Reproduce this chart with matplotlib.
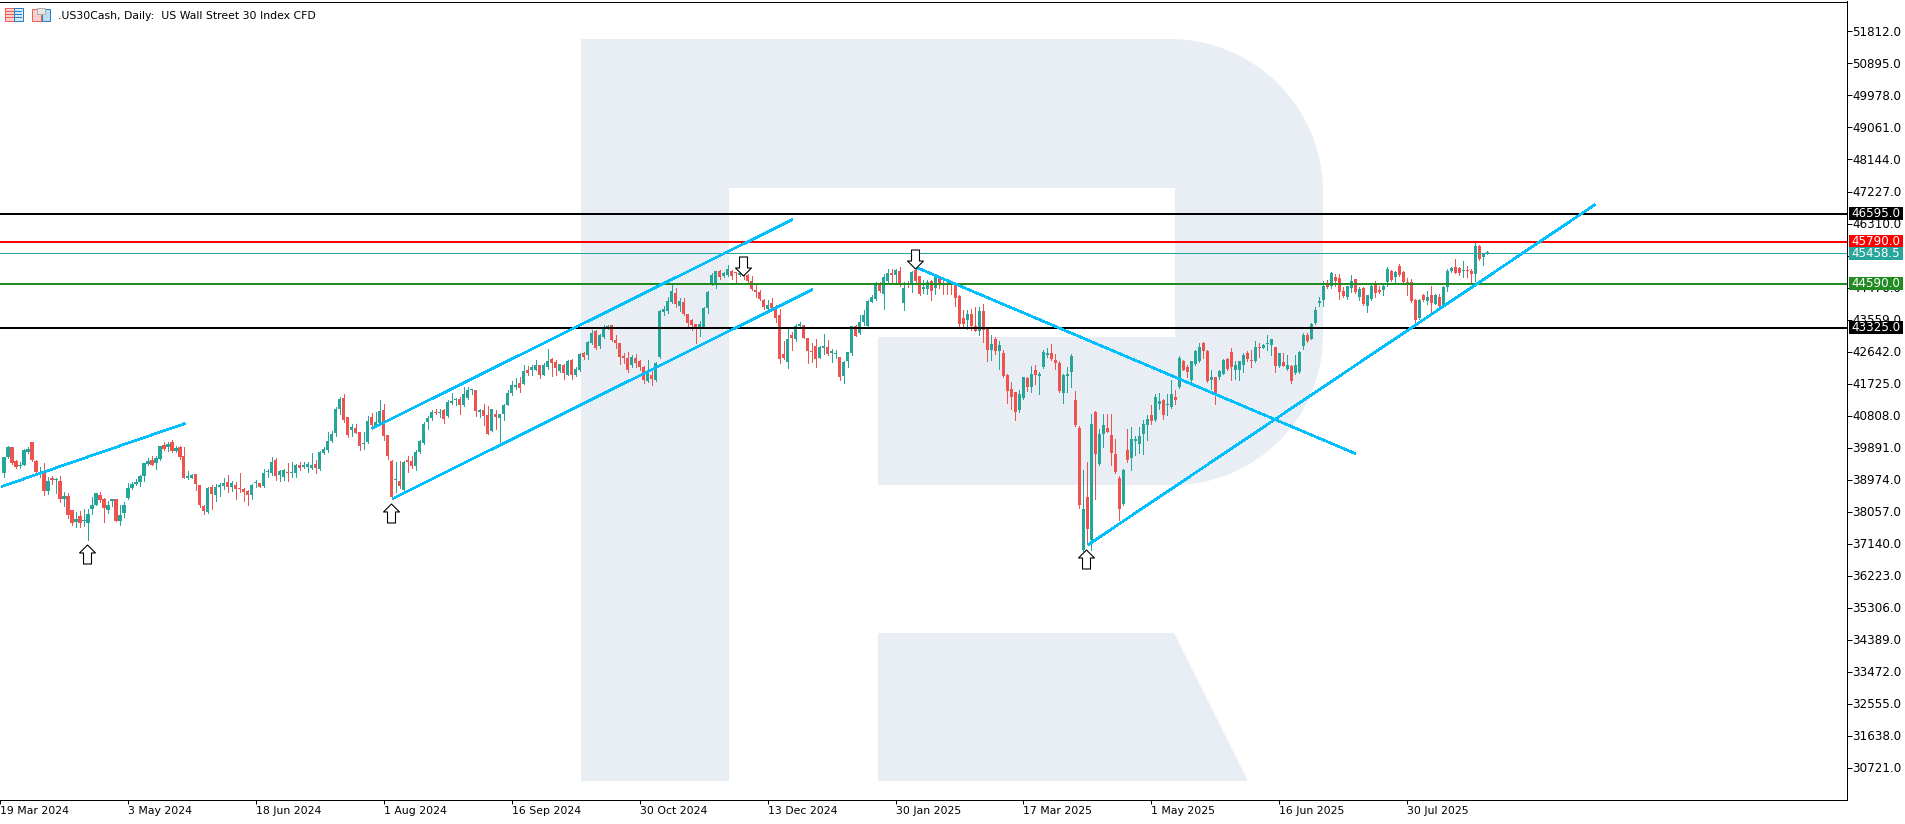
import matplotlib
matplotlib.use('Agg')
import matplotlib.pyplot as plt
import numpy as np
from matplotlib.patches import PathPatch, Rectangle, Polygon
from matplotlib.path import Path

# daily candles, left to right
opens = [
    39155,39633,39900,39518,39365,39403,39776,40062,39499,39165,
    39184,38639,39031,38964,38945,38410,38515,38105,37751,37942,
    37780,37732,38124,38257,38544,38410,38114,38353,38410,37799,
    38028,38448,38725,38850,38897,39060,39423,39547,39461,39566,
    39976,39900,40062,39795,39919,39661,39031,39031,39126,38830,
    38210,38057,38773,38544,38773,38802,38907,38773,38830,38744,
    38706,38639,38544,38869,38888,38792,39184,39155,39547,39098,
    39050,39174,39165,39174,39384,39346,39337,39308,39423,39279,
    39728,39833,40072,40311,41008,41323,40760,40397,40463,40330,
    39996,40053,40760,40521,40588,40970,40244,39518,38955,38945,
    38659,39518,39518,39356,39757,40015,40618,40723,40905,40886,
    40953,40790,41172,41239,41268,41096,41315,41535,41535,40895,
    40953,40809,40360,40838,40733,40847,41115,41440,41621,41726,
    41717,42099,42108,42118,42242,41965,42194,42423,42337,42070,
    42251,41974,42404,41955,42099,42586,42528,42882,43216,42786,
    43063,43321,43388,42958,42882,42500,42461,42261,42452,42356,
    42194,41783,41955,41812,42480,43770,43789,44047,44314,43932,
    44047,43722,43541,43416,43321,43321,43875,44581,44562,44935,
    44792,44820,44954,44916,44820,45059,44820,44658,44410,44343,
    44123,43865,44037,43913,43674,42557,42337,43101,43006,43359,
    43388,43034,42652,42786,42461,42738,42757,42605,42567,42480,
    41936,42356,42595,43359,43168,43474,43359,44066,44133,44562,
    44276,44658,44887,44830,44944,44028,44581,44581,44983,44792,
    44429,44419,44658,44457,44734,44601,44581,44581,44581,44219,
    43588,43531,43722,43378,43225,43798,43273,42672,42987,42643,
    42595,41955,41554,41468,40953,41306,41888,41621,42099,41936,
    42194,42547,42605,42385,42299,41449,41927,42051,41239,40437,
    36942,38470,37247,40895,39405,40274,40437,40236,39692,39014,
    38259,39807,39577,40074,39979,40265,40523,40809,40685,41133,
    41258,41114,41048,41324,41620,42384,42203,41831,42289,42365,
    42881,42661,41811,41897,41897,42003,42423,42614,42098,42098,
    42241,42585,42403,42365,42785,42747,42843,42814,42757,42213,
    42337,42136,42232,42031,42050,42786,43129,43005,43464,44027,
    44104,44581,44533,44772,44743,44371,44218,44466,44715,44199,
    44466,43960,44151,44581,44409,44409,44629,44944,44791,45078,
    44915,44629,44629,44132,43597,44247,44103,44247,44008,44218,
    43960,44485,44944,45058,45039,44944,44963,44963,44867,45679,
    45346,45450]
highs = [
    39633,39948,39919,39537,39489,39862,39900,40062,39537,39346,
    39451,39040,39060,39012,39079,38611,38592,38105,38057,38067,
    38133,38133,38467,38601,38611,38448,38372,38420,38429,38229,
    38324,38869,38897,38993,39117,39461,39594,39661,39661,39948,
    40043,40043,40110,39938,39948,39900,39231,39136,39136,38830,
    38229,38773,38830,38850,38869,39012,39117,38926,38897,39165,
    38735,38659,38850,38974,38888,39270,39289,39633,39585,39251,
    39279,39461,39489,39423,39470,39480,39489,39747,39547,39785,
    39900,40330,40378,41065,41333,41428,40779,40569,40569,40330,
    40330,40807,40874,40903,41266,41142,40244,39537,39489,39518,
    39518,39642,39642,39824,40110,40616,40781,40953,41000,41000,
    41000,41258,41459,41315,41334,41621,41621,41573,41535,41000,
    41124,41077,41000,40953,40838,41143,41526,41793,41888,41908,
    42242,42213,42242,42385,42261,42318,42700,42461,42385,42290,
    42290,42385,42433,42194,42595,42624,42929,43245,43245,43149,
    43388,43388,43388,43101,42882,42595,42624,42528,42576,42404,
    42213,42385,42099,42337,43837,43942,44200,44581,44467,44180,
    44180,43722,43560,43435,43502,43913,44362,44887,44963,44983,
    44916,45135,44983,44916,44897,45107,44868,44792,44534,44391,
    44152,44104,44171,43961,43865,42929,43321,43197,43435,43483,
    43388,43034,42882,42987,42786,43149,42977,42700,42672,42480,
    42366,42614,43378,43407,43674,43818,44104,44247,44629,44629,
    44868,45011,45011,45011,45059,44629,44648,44944,45011,44811,
    44677,44677,44696,44820,44753,44725,44658,44581,44601,44247,
    43837,43818,43865,43913,43913,44008,43292,43120,43054,42929,
    42672,41984,41764,41468,41526,41908,41908,42213,42242,42051,
    42672,42748,42843,42576,42366,41984,42194,42557,41497,40494,
    39234,39472,40838,40924,40427,40838,40838,40838,40122,39071,
    39281,40408,40475,40217,40475,40666,40809,41095,41430,41449,
    41286,41430,41811,41525,42499,42404,42260,42384,42671,42881,
    42900,42671,42117,41907,42117,42432,42451,42728,42384,42365,
    42595,42652,42671,42929,42891,42862,43129,43005,42766,42595,
    42595,42556,42241,42547,42652,43168,43168,43464,43912,44199,
    44657,44696,44915,44867,44867,44485,44533,44820,44724,44485,
    44485,44266,44581,44657,44533,44581,45058,44982,44963,45154,
    44963,44753,44724,44151,44151,44294,44371,44505,44294,44294,
    44505,44992,45058,45297,45058,45249,45106,45011,45775,45698,
    45470,45508]
lows = [
    39040,39594,39422,39308,39298,39384,39747,39518,39136,39040,
    38544,38563,38850,38582,38324,38210,37866,37656,37608,37608,
    37637,37226,37990,38229,38324,37751,38009,38210,37780,37684,
    37894,38420,38697,38811,38783,38945,39403,39394,39279,39547,
    39833,39805,39776,39766,39556,39012,38993,39012,38687,38200,
    37990,38028,38133,38353,38515,38706,38630,38658,38420,38611,
    38372,38257,38420,38754,38773,38773,39040,39107,38974,38926,
    38974,38926,39040,39040,39251,39308,39184,39279,39155,39251,
    39709,39757,40043,40234,40855,40616,40206,40234,40301,39833,
    39852,40034,40425,40492,40569,40110,39566,38420,38611,38735,
    38630,39184,39308,39232,39728,39996,40418,40685,40838,40762,
    40590,40762,41143,41096,40838,41077,41287,41430,40790,40762,
    40523,40265,40351,40427,39978,40666,41096,41401,41573,41478,
    41697,41955,41974,42099,41888,41955,42146,41927,41955,42051,
    41841,41955,41841,41927,42079,42433,42433,42863,42719,42738,
    43034,43292,42939,42738,42290,42309,42051,42194,42194,42118,
    41736,41764,41669,41793,42461,43674,43741,44028,43913,43798,
    43674,43359,43264,42882,43073,43311,43741,44534,44457,44706,
    44773,44801,44725,44620,44792,44725,44629,44391,44200,44123,
    43865,43846,43865,43483,42309,42433,42165,42672,42929,43321,
    43025,42309,42337,42194,42452,42576,42528,42337,42461,41831,
    41736,42194,42528,43073,43149,43388,43340,44047,44123,44343,
    43846,44601,44601,44629,44505,43817,44486,44343,44581,44266,
    44314,44295,44104,44295,44467,44295,44295,44295,43942,43359,
    43321,43292,43264,43216,43101,42910,42366,42385,42576,42146,
    41908,41172,41000,40666,40895,41287,41506,41478,41717,41411,
    42175,42481,42385,42146,41478,41163,41478,41621,40494,38154,
    36923,37113,36942,38403,39377,39902,40332,39377,39167,37820,
    38231,39472,39234,39663,39740,39711,40093,40570,40646,40999,
    40713,40809,41028,41124,41601,42098,41907,41764,42260,42337,
    42461,41764,41573,41143,41859,41983,42117,41811,41859,41831,
    42050,42384,42194,42346,42480,42747,42671,42556,42060,42193,
    42213,42117,41745,41983,42031,42719,42910,42986,43435,43932,
    43960,44466,44466,44533,44151,44218,44151,44342,44314,44123,
    43970,43769,44132,44199,44314,44247,44533,44676,44629,44801,
    44610,44247,44056,43416,43578,44103,43989,43769,43989,43893,
    43932,44390,44915,44887,44820,44772,44772,44629,44676,45269,
    45107,45442]
closes = [
    39613,39900,39451,39327,39403,39833,39852,39537,39193,39203,
    38639,38945,38955,38983,38410,38487,37971,37732,37828,37732,
    37799,37990,38257,38582,38391,38143,38257,38420,37799,37971,
    38229,38744,38850,38897,39060,39461,39518,39403,39594,39929,
    39852,39996,39795,39890,39633,39031,39050,39107,38840,38229,
    38085,38735,38563,38754,38792,38888,38773,38869,38716,38697,
    38611,38544,38830,38888,38773,39174,39222,39470,39088,39212,
    39232,39155,39203,39384,39308,39403,39413,39403,39308,39757,
    39843,40072,40282,41008,41275,40683,40263,40492,40320,39948,
    40034,40664,40540,40626,40950,40215,39661,38468,38993,38802,
    39489,39489,39356,39776,40091,40578,40733,40914,40876,40905,
    40714,41191,41230,41277,41115,41411,41535,41573,40924,40953,
    40790,40284,41000,40762,40838,41105,41440,41669,41688,41602,
    42070,42022,42184,42261,41955,42242,42356,42299,42165,42270,
    42022,42366,41974,42137,42557,42471,42901,43159,42738,43120,
    43321,43369,42958,42882,42471,42461,42099,42471,42309,42184,
    41831,42051,41850,42318,43789,43846,44075,44362,43989,44075,
    43703,43464,43388,43321,43435,43894,44343,44830,44944,44773,
    44897,44992,44811,44897,44897,44792,44648,44419,44343,44142,
    43923,43961,43884,43598,42423,42442,42987,43025,43359,43416,
    43025,42643,42624,42433,42767,42786,42557,42643,42586,41908,
    42337,42614,43359,43082,43474,43674,44085,44200,44581,44371,
    44773,44878,44830,44964,44534,44457,44534,44916,44658,44295,
    44476,44629,44362,44773,44562,44553,44562,44562,44180,43435,
    43416,43703,43378,43235,43789,43245,42672,42843,42643,42815,
    41927,41506,41335,40905,41430,41908,41611,42003,41955,42003,
    42624,42605,42414,42309,41497,41955,41984,42509,40523,38231,
    38135,37562,40571,39692,40274,40523,40341,39730,39186,38126,
    39234,39539,40122,40141,40208,40571,40695,40637,41334,41210,
    40809,41133,41420,41238,42470,42117,42050,42356,42652,42766,
    42652,41792,41897,41429,42069,42404,42146,42193,42241,42356,
    42528,42413,42365,42776,42747,42833,42891,42986,42213,42585,
    42222,42241,41792,42241,42614,43129,42948,43416,43817,44075,
    44533,44485,44887,44676,44342,44228,44505,44676,44342,44438,
    43989,44247,44533,44314,44361,44533,45011,44696,44915,44820,
    44629,44610,44103,43550,44122,44132,44218,44027,44247,43960,
    44485,44963,45030,44896,44896,44963,44944,44867,45679,45297,
    45470,45458]

# horizontal levels: price, colour, line width in px
levels = [46595, 45790, 45458.5, 44590, 43325]
level_colors = ['#000000', '#ff0000', '#26a69a', '#228b22', '#000000']
level_widths = [2, 2, 1, 2, 2]
level_labels = ['46595.0', '45790.0', '45458.5', '44590.0', '43325.0']

# trend lines as (bar, price) end points
trend_bars = [(-0.6, 45.25), (92, 197.25), (97.25, 202.25), (228.25, 338), (271.25, 398)]
trend_prices = [(38773, 40578), (40435, 46425), (38429, 44419), (45049, 39718), (37110, 46854)]

# swing arrows
up_bars = [20.75, 96.75, 270.75]
up_prices = [36853, 38027, 36710]
down_bars = [184.75, 227.75]
down_prices = [45092, 45307]

price_ticks = [51812 - 917 * k for k in range(24)]
date_bars = [-1 + 32 * k for k in range(12)]
date_labels = ['19 Mar 2024', '3 May 2024', '18 Jun 2024', '1 Aug 2024', '16 Sep 2024', '30 Oct 2024',
               '13 Dec 2024', '30 Jan 2025', '17 Mar 2025', '1 May 2025', '16 Jun 2025', '30 Jul 2025']

W, H = 1905, 824
UP = '#26a69a'
DOWN = '#ef5350'
TREND = '#00bfff'
MARK = '#e9eef5'
FONT = 'DejaVu Sans'
FS = 7.8
FS_PRICE = 8.6
PX = 0.72  # one pixel in points at dpi 100

plt.rcParams['font.family'] = FONT

fig = plt.figure(figsize=(W / 100, H / 100), dpi=100, facecolor='white')

# background layer in pixel coordinates: watermark, icons, footer line
bg = fig.add_axes([0, 0, 1, 1], zorder=0)
bg.set_xlim(0, W)
bg.set_ylim(H, 0)
bg.axis('off')

k = 0.5523
rad1, rad2 = 153, 150
verts = [(581, 39), (1323 - rad1, 39),
         (1323 - rad1 + k * rad1, 39), (1323, 39 + rad1 - k * rad1), (1323, 39 + rad1),
         (1323, 485 - rad2),
         (1323, 485 - rad2 + k * rad2), (1323 - rad2 + k * rad2, 485), (1323 - rad2, 485),
         (878, 485), (878, 337), (1175, 337), (1175, 188), (729, 188), (729, 781), (581, 781), (581, 39)]
codes = [Path.MOVETO, Path.LINETO, Path.CURVE4, Path.CURVE4, Path.CURVE4, Path.LINETO,
         Path.CURVE4, Path.CURVE4, Path.CURVE4, Path.LINETO, Path.LINETO, Path.LINETO,
         Path.LINETO, Path.LINETO, Path.LINETO, Path.LINETO, Path.CLOSEPOLY]
bg.add_patch(PathPatch(Path(verts, codes), facecolor=MARK, edgecolor='none'))
bg.add_patch(Polygon([(878, 633), (1174, 633), (1248, 781), (878, 781)], facecolor=MARK, edgecolor='none'))

# the two little toolbar icons
bg.add_patch(Rectangle((4.5, 7.5), 9, 13, facecolor='#fbd0cc', edgecolor='#f0605a', lw=PX))
bg.add_patch(Rectangle((13.5, 7.5), 9, 13, facecolor='#d5e8f7', edgecolor='#2a80c0', lw=PX))
for yy in (11, 14, 17):
    bg.plot([6, 13], [yy, yy], color='#f0605a', lw=PX)
    bg.plot([15, 21], [yy, yy], color='#2a80c0', lw=PX)
bg.add_patch(Rectangle((31.5, 8.5), 9, 12, facecolor='#fbd0cc', edgecolor='#f0605a', lw=PX))
bg.add_patch(Rectangle((41.5, 8.5), 8, 12, facecolor='#bcdcf4', edgecolor='#2a80c0', lw=PX))
bg.add_patch(Rectangle((36.5, 7.5), 8, 6, facecolor='#e6e6e6', edgecolor='#b0b0b0', lw=PX))
bg.text(58, 16, '.US30Cash, Daily:  US Wall Street 30 Index CFD', fontsize=FS, va='center', ha='left', color='black')
bg.plot([131, W], [823.5, 823.5], color='black', lw=PX)

# chart axes; one bar is 4 px wide
ax = fig.add_axes([0, (H - 799.5) / H, 1846.5 / W, 798 / H], zorder=1)
ax.patch.set_alpha(0)
ax.set_xlim(-0.625, 460.875)
ax.set_ylim(47227 - 608 * 917 / 32, 47227 + 190 * 917 / 32)

x = np.arange(len(opens))
o, h, l, c = map(np.array, (opens, highs, lows, closes))
colors = [UP if cc >= oo else DOWN for oo, cc in zip(o, c)]

ax.vlines(x, l, h, colors=colors, linewidth=PX, antialiased=False, zorder=2)
ax.bar(x, np.maximum(np.abs(c - o), 30), bottom=np.minimum(o, c), width=0.8, color=colors,
       linewidth=0, antialiased=False, zorder=2.1)

for price, col, lw in zip(levels, level_colors, level_widths):
    ax.axhline(price, color=col, linewidth=lw * PX, zorder=3)

for bars, prices in zip(trend_bars, trend_prices):
    ax.plot(bars, prices, color=TREND, linewidth=1.6 * PX, antialiased=False, solid_capstyle='butt', zorder=4)

arrow_xy = [(0, 1), (0.84, 0.16), (0.42, 0.16), (0.42, -1), (-0.42, -1), (-0.42, 0.16), (-0.84, 0.16), (0, 1)]
up_arrow = Path(arrow_xy, closed=True)
down_arrow = Path([(a, -b) for a, b in arrow_xy], closed=True)
ax.plot(up_bars, up_prices, ls='none', marker=up_arrow, ms=19 * PX, mfc='white', mec='black', mew=1.1 * PX, zorder=5)
ax.plot(down_bars, down_prices, ls='none', marker=down_arrow, ms=19 * PX, mfc='white', mec='black', mew=1.1 * PX, zorder=5)

# axes look
ax.spines['left'].set_visible(False)
for side in ('top', 'right', 'bottom'):
    ax.spines[side].set_linewidth(PX)
ax.yaxis.tick_right()
ax.set_yticks(price_ticks)
ax.set_yticklabels([f'{p}.0' for p in price_ticks], fontsize=FS_PRICE)
ax.tick_params(axis='y', direction='out', length=5 * PX, width=PX, pad=0.5)
ax.set_xticks(date_bars)
ax.set_xticklabels(date_labels, fontsize=FS, ha='left')
ax.tick_params(axis='x', direction='out', length=4 * PX, width=PX, pad=1.5)
for tick in ax.get_xticklabels():
    tick.set_clip_on(False)

# price tags over the right axis
tag_tr = ax.get_yaxis_transform()
tag_left = 1849 / 1846.5
tag_w = 54 / 1846.5
tag_h = 13 * 917 / 32
for price, col, text in zip(levels, level_colors, level_labels):
    ax.add_patch(Rectangle((tag_left, price - tag_h / 2), tag_w, tag_h, transform=tag_tr, facecolor=col,
                           edgecolor='none', clip_on=False, zorder=6))
    ax.text(tag_left + tag_w / 2, price, text, transform=tag_tr, color='white', fontsize=FS_PRICE, ha='center',
            va='center', clip_on=False, zorder=7)

fig.savefig('out.png', dpi=100)
